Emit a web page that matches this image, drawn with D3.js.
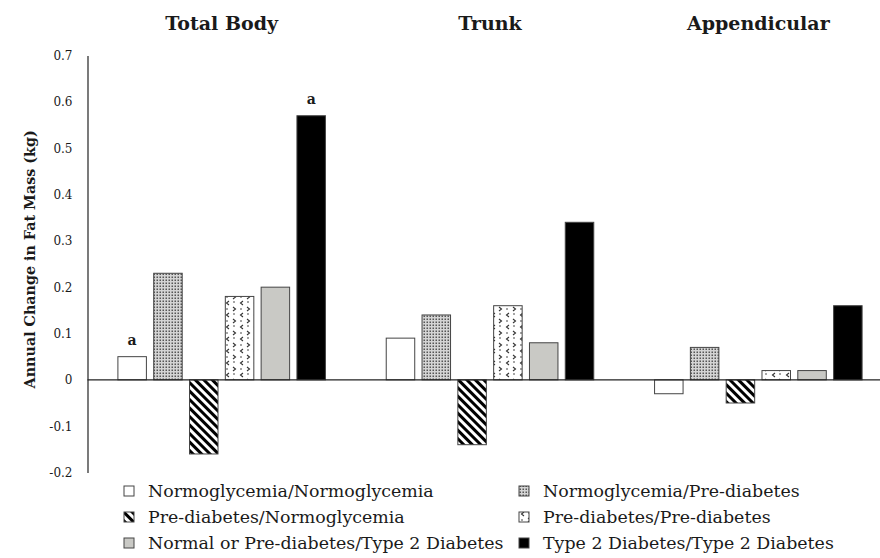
<!DOCTYPE html>
<html>
<head>
<meta charset="utf-8">
<script src="https://cdn.jsdelivr.net/npm/d3@7"></script>
<style>
  body { margin: 0; background: #fff; }
  svg { display: block; }
  text { font-family: "DejaVu Serif", "Liberation Serif", serif; fill: #1a1a1a; }
</style>
</head>
<body>
<div id="chart"></div>
<script>
// regions shown as groups, glucose status as the bars inside each group
const regions = ['Total Body', 'Trunk', 'Appendicular'];
const statuses = [
  'Normoglycemia/Normoglycemia',
  'Normoglycemia/Pre-diabetes',
  'Pre-diabetes/Normoglycemia',
  'Pre-diabetes/Pre-diabetes',
  'Normal or Pre-diabetes/Type 2 Diabetes',
  'Type 2 Diabetes/Type 2 Diabetes'
];

// annual change in fat mass (kg), one value per region
const normNorm = [0.05, 0.09, -0.03];
const normPre = [0.23, 0.14, 0.07];
const preNorm = [-0.16, -0.14, -0.05];
const prePre = [0.18, 0.16, 0.02];
const toT2d = [0.20, 0.08, 0.02];
const t2dT2d = [0.57, 0.34, 0.16];

// significance letters: [region, status, letter]
const letters = [['Total Body', 'Normoglycemia/Normoglycemia', 'a'],
                 ['Total Body', 'Type 2 Diabetes/Type 2 Diabetes', 'a']];

const yTicks = [-0.2, -0.1, 0, 0.1, 0.2, 0.3, 0.4, 0.5, 0.6, 0.7];

const seriesValues = [normNorm, normPre, preNorm, prePre, toT2d, t2dT2d];

let W = 880, H = 558;

let svg = d3.select('#chart').append('svg')
    .attr('width', W)
    .attr('height', H);

// patterns
let defs = svg.append('defs');

let dots = defs.append('pattern')
    .attr('id', 'dots')
    .attr('patternUnits', 'userSpaceOnUse')
    .attr('width', 3).attr('height', 3);
dots.append('rect').attr('width', 3).attr('height', 3).attr('fill', '#d4d4d4');
dots.append('rect').attr('x', 0.5).attr('y', 0.5).attr('width', 1.5).attr('height', 1.5).attr('fill', '#555');

let stripes = defs.append('pattern')
    .attr('id', 'stripes')
    .attr('patternUnits', 'userSpaceOnUse')
    .attr('width', 6).attr('height', 6)
    .attr('patternTransform', 'rotate(-45)');
stripes.append('rect').attr('width', 6).attr('height', 6).attr('fill', '#fff');
stripes.append('rect').attr('width', 3).attr('height', 6).attr('fill', '#000');

let chev = defs.append('pattern')
    .attr('id', 'chev')
    .attr('patternUnits', 'userSpaceOnUse')
    .attr('width', 14).attr('height', 12);
chev.append('rect').attr('width', 14).attr('height', 12).attr('fill', '#fff');
chev.append('path').attr('d', 'M5,1 L2.5,3 L5,5').attr('fill', 'none').attr('stroke', '#333').attr('stroke-width', 1.1);
chev.append('path').attr('d', 'M9,7 L11.5,9 L9,11').attr('fill', 'none').attr('stroke', '#333').attr('stroke-width', 1.1);
chev.append('circle').attr('cx', 10).attr('cy', 2).attr('r', 0.8).attr('fill', '#333');
chev.append('circle').attr('cx', 3).attr('cy', 9).attr('r', 0.8).attr('fill', '#333');

const fills = ['#fff', 'url(#dots)', 'url(#stripes)', 'url(#chev)', '#c9c9c5', '#000'];

let color = d3.scaleOrdinal().domain(statuses).range(fills);

// scales
let x0 = d3.scaleBand()
    .domain(regions)
    .range([87.5, 892.5]);

let x1 = d3.scaleBand()
    .domain(statuses)
    .range([0, x0.bandwidth()])
    .paddingInner(0.204)
    .paddingOuter(0.849);

let y = d3.scaleLinear()
    .domain([-0.2, 0.7])
    .range([472.5, 55.5]);

// y axis, no tick marks
let yAxis = svg.append('g')
    .attr('transform', 'translate(87.5,0)')
    .call(d3.axisLeft(y).tickValues(yTicks).tickSize(0).tickPadding(15)
      .tickFormat(d => d === 0 ? '0' : d.toFixed(1)));
yAxis.select('.domain').attr('stroke', '#222').attr('stroke-width', 1.2);
yAxis.selectAll('text')
    .style('font-family', '"DejaVu Serif", serif')
    .style('font-size', '12px')
    .attr('fill', '#1a1a1a');

svg.append('text')
    .attr('transform', 'translate(35,' + y(0.26) + ') rotate(-90)')
    .attr('text-anchor', 'middle')
    .style('font-size', '14.3px')
    .style('font-weight', 'bold')
    .text('Annual Change in Fat Mass (kg)');

// bars
let rows = [];
regions.forEach(function (r, i) {
  statuses.forEach(function (s, j) {
    rows.push({ region: r, status: s, value: seriesValues[j][i] });
  });
});

svg.append('g').selectAll('rect')
    .data(rows)
    .join('rect')
    .attr('x', d => x0(d.region) + x1(d.status))
    .attr('width', x1.bandwidth())
    .attr('y', d => y(Math.max(0, d.value)))
    .attr('height', d => Math.abs(y(d.value) - y(0)))
    .attr('fill', d => color(d.status))
    .attr('stroke', '#444')
    .attr('stroke-width', 1);

// zero line
svg.append('line')
    .attr('x1', 87.5).attr('x2', W)
    .attr('y1', y(0)).attr('y2', y(0))
    .attr('stroke', '#222')
    .attr('stroke-width', 1.2);

// region titles
svg.append('g').selectAll('text')
    .data(regions)
    .join('text')
    .attr('x', d => x0(d) + x0.bandwidth() / 2)
    .attr('y', 30)
    .attr('text-anchor', 'middle')
    .style('font-size', '19px')
    .style('font-weight', 'bold')
    .text(d => d);

// letters above bars
svg.append('g').selectAll('text')
    .data(letters)
    .join('text')
    .attr('x', d => x0(d[0]) + x1(d[1]) + x1.bandwidth() / 2)
    .attr('y', d => y(seriesValues[statuses.indexOf(d[1])][regions.indexOf(d[0])]) - 12)
    .attr('text-anchor', 'middle')
    .style('font-size', '14px')
    .style('font-weight', 'bold')
    .text(d => d[2]);

// legend, two columns filled row by row
let legend = svg.append('g');
statuses.forEach(function (s, i) {
  let col = i % 2, row = Math.floor(i / 2);
  let g = legend.append('g')
      .attr('transform', 'translate(' + (col === 0 ? 124 : 519) + ',' + (497 + row * 26) + ')');
  g.append('rect')
      .attr('x', 0).attr('y', -11)
      .attr('width', 10).attr('height', 10)
      .attr('fill', fills[i])
      .attr('stroke', '#444')
      .attr('stroke-width', 1);
  g.append('text')
      .attr('x', 24)
      .attr('y', 0)
      .style('font-size', '17.4px')
      .text(s);
});
</script>
</body>
</html>
